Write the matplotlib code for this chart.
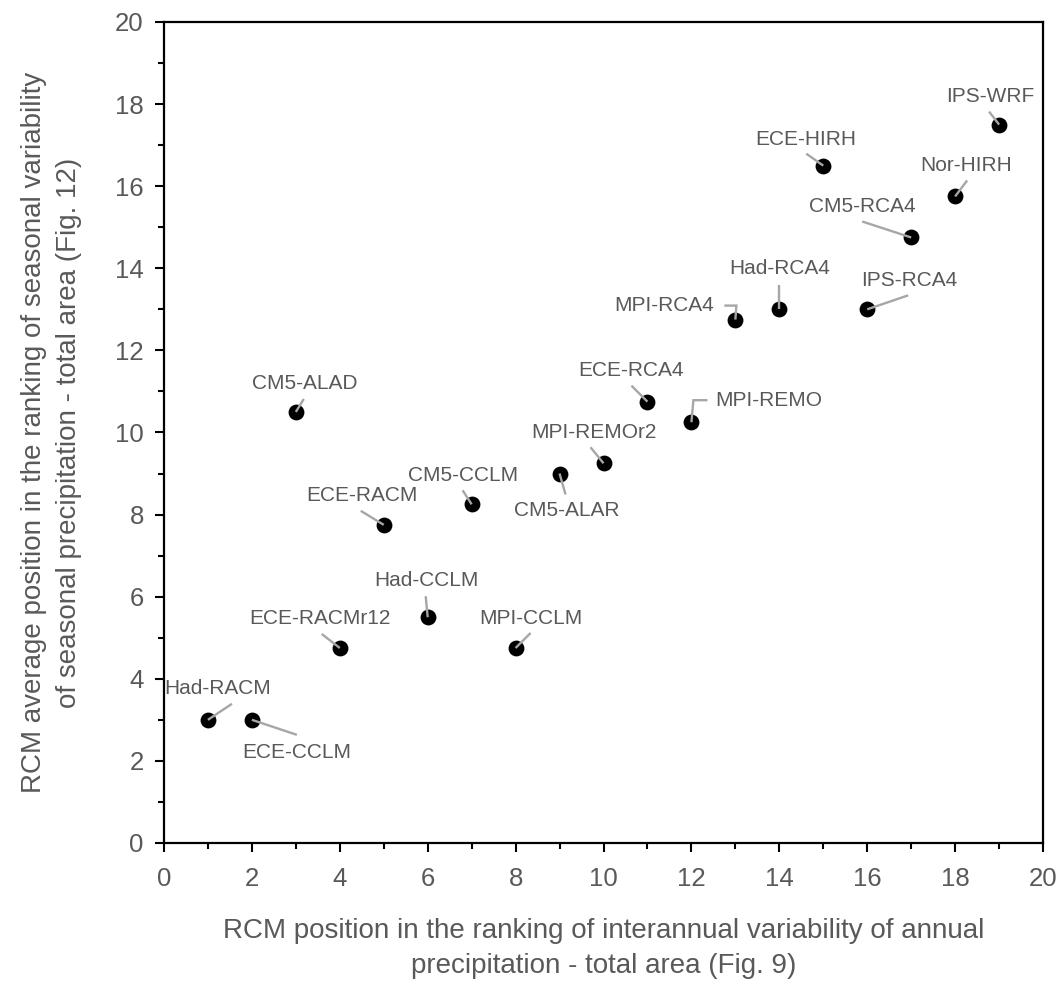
import matplotlib
matplotlib.use("Agg")
import matplotlib.pyplot as plt
import matplotlib.transforms as mtransforms
from matplotlib.lines import Line2D

plt.rcParams['font.family'] = ['Liberation Sans', 'DejaVu Sans']

models = ["Had-RACM", "ECE-CCLM", "ECE-RACMr12", "Had-CCLM", "MPI-CCLM",
          "CM5-ALAD", "ECE-RACM", "CM5-CCLM", "CM5-ALAR", "MPI-REMOr2",
          "ECE-RCA4", "MPI-REMO", "MPI-RCA4", "Had-RCA4", "IPS-RCA4",
          "CM5-RCA4", "ECE-HIRH", "Nor-HIRH", "IPS-WRF"]
interannual_rank = [1, 2, 4, 6, 8, 3, 5, 7, 9, 10, 11, 12, 13, 14, 16, 17, 15, 18, 19]
seasonal_rank = [3.0, 3.0, 4.75, 5.5, 4.75, 10.5, 7.75, 8.25, 9.0, 9.25,
                 10.75, 10.25, 12.75, 13.0, 13.0, 14.75, 16.5, 15.75, 17.5]

# label offsets (pixels, y up) and leader-line paths (pixels, relative to point)
label_off = [(10, 31), (45, -33), (-20, 29), (-1, 37), (15, 29),
             (9, 28), (-22, 29), (-9, 29), (7, -37), (-10, 31),
             (-16, 31), (77, 22), (-71, 14), (0, 41), (42, 29),
             (-49, 31), (-18, 26), (11, 31), (-9, 28)]
leader = [[(24, 16)], [(45, -15)], [(-18, 14)], [(-2, 21)], [(15, 15)],
          [(8, 13)], [(-23, 14)], [(-9, 14)], [(6, -21)], [(-13, 16)],
          [(-16, 16)], [(2, 22), (16, 22)], [(1, 14), (-11, 14)], [(0, 24)], [(41, 14)],
          [(-49, 16)], [(-17, 12)], [(12, 16)], [(-10, 13)]]

DPI = 100
fig = plt.figure(figsize=(10.64, 9.81), dpi=DPI)
ax = fig.add_axes([0.1541, 0.1407, 0.9803 - 0.1541, 0.9776 - 0.1407])

txt_col = '#595959'
line_col = '#A6A6A6'
pt = 72.0 / DPI

for name, x, y, lo, ld in zip(models, interannual_rank, seasonal_rank, label_off, leader):
    path = [(0, 0)] + ld
    trans = fig.dpi_scale_trans + mtransforms.ScaledTranslation(x, y, ax.transData)
    ln = Line2D([p[0] / DPI for p in path], [p[1] / DPI for p in path],
                transform=trans, color=line_col, lw=1.7, solid_capstyle='butt',
                solid_joinstyle='miter', zorder=6)
    ax.add_artist(ln)
    ax.annotate(name, xy=(x, y), xytext=(lo[0] * pt, lo[1] * pt), textcoords='offset points',
                ha='center', va='center', fontsize=15, color=txt_col)

ax.scatter(interannual_rank, seasonal_rank, s=130, color='black', zorder=5, linewidths=0)

ax.set_xlim(0, 20)
ax.set_ylim(0, 20)
ax.set_xticks(range(0, 21, 2))
ax.set_yticks(range(0, 21, 2))
ax.set_xticks(range(1, 20, 2), minor=True)
ax.set_yticks(range(1, 20, 2), minor=True)
ax.tick_params(which='major', direction='out', length=6.5, width=1.5, colors='black',
               labelcolor=txt_col, labelsize=18.5)
ax.tick_params(axis='x', which='major', pad=11)
ax.tick_params(axis='y', which='major', pad=8)
ax.tick_params(which='minor', direction='out', length=4.5, width=1.5, colors='black')
for s in ax.spines.values():
    s.set_linewidth(1.6)
    s.set_color('black')

ax.set_xlabel("RCM position in the ranking of interannual variability of annual\nprecipitation - total area (Fig. 9)",
              fontsize=20, color=txt_col, labelpad=19, linespacing=1.45)
ax.set_ylabel("RCM average position in the ranking of seasonal variability\nof seasonal precipitation - total area (Fig. 12)",
              fontsize=20, color=txt_col, labelpad=24, linespacing=1.45)

fig.savefig("out.png", dpi=DPI)
